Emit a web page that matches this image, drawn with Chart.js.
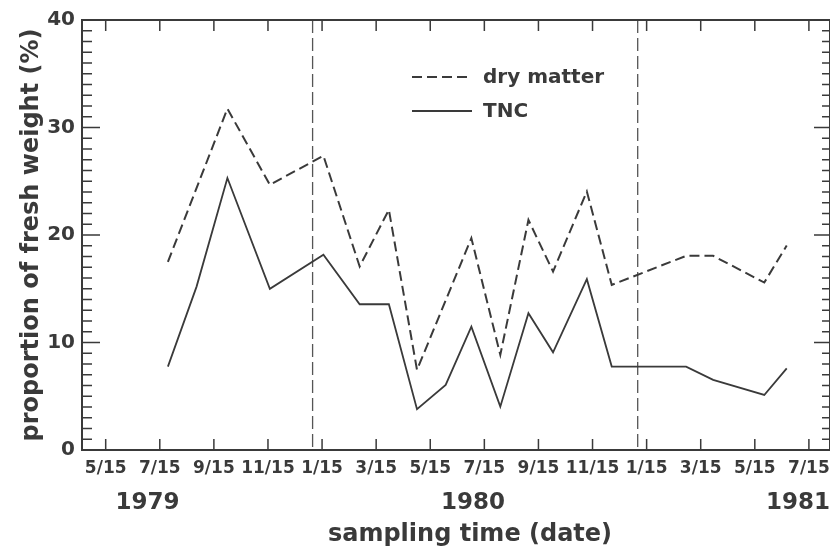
<!DOCTYPE html>
<html><head><meta charset="utf-8">
<script src="https://cdn.jsdelivr.net/npm/chart.js@4.4.1/dist/chart.umd.min.js"></script>
<style>html,body{margin:0;padding:0;background:#fff;} canvas{display:block;}</style>
</head><body>
<canvas id="c" width="830" height="550"></canvas>
<script>
// sampling dates, as months after 15 May 1979
const sampleMonths = [2.3, 3.36, 4.5, 6.07, 8.05, 9.39, 10.47, 11.51, 12.57, 13.52, 14.59, 15.63, 16.54, 17.79, 18.71, 21.46, 22.46, 24.35, 25.18];
const dryMatter    = [17.5, null, 31.75, 24.67, 27.37, 17.07, 22.35, 7.45, null, 19.71, 8.85, 21.4, 16.6, 24.05, 15.36, 18.06, 18.06, 15.58, 19.02];
const tncValues    = [7.76, 15.2, 25.3, 14.99, 18.16, 13.56, 13.56, 3.79, 6.05, 11.48, 4.03, 12.73, 9.09, 15.89, 7.76, 7.76, 6.52, 5.12, 7.6];
const tickMonths   = [0, 2, 4, 6, 8, 10, 12, 14, 16, 18, 20, 22, 24, 26];
const tickLabels   = ['5/15','7/15','9/15','11/15','1/15','3/15','5/15','7/15','9/15','11/15','1/15','3/15','5/15','7/15'];
const yearLabels   = ['1979', '1980', '1981'];
const yearMonths   = [1.55, 13.58, 25.6];
const yearBreakMonths = [7.65, 19.67];
const seriesNames  = ['dry matter', 'TNC'];
const xTitle = 'sampling time (date)';
const yTitle = 'proportion of fresh weight (%)';

const INK = '#3a3a3a';
const FONT = "'DejaVu Sans', sans-serif";

function pts(vals) {
  return sampleMonths.map((m, i) => ({x: m, y: vals[i]})).filter(p => p.y !== null);
}

const decor = {
  id: 'decor',
  beforeDatasetsDraw(chart) {
    const {ctx, chartArea: a, scales: {x}} = chart;
    ctx.save();
    ctx.strokeStyle = '#555';
    ctx.lineWidth = 1.3;
    ctx.setLineDash([13, 5]);
    yearBreakMonths.forEach(m => {
      const px = x.getPixelForValue(m);
      ctx.beginPath(); ctx.moveTo(px, a.top); ctx.lineTo(px, a.bottom); ctx.stroke();
    });
    ctx.restore();
  },
  afterDraw(chart) {
    const {ctx, chartArea: a, scales: {x, y}} = chart;
    ctx.save();
    ctx.strokeStyle = INK;
    ctx.lineWidth = 2;
    ctx.beginPath();
    ctx.moveTo(a.left, a.top); ctx.lineTo(a.right, a.top); ctx.lineTo(a.right, a.bottom);
    ctx.stroke();
    ctx.lineWidth = 1.5;
    // y ticks (inward)
    for (let v = 0; v <= 40; v++) {
      const py = y.getPixelForValue(v);
      const major = v % 10 === 0;
      ctx.beginPath();
      ctx.moveTo(a.left, py); ctx.lineTo(a.left + (major ? 18 : 10), py);
      ctx.moveTo(a.right, py); ctx.lineTo(a.right - (major ? 16 : 8), py);
      ctx.stroke();
    }
    // x ticks (inward, bottom and top)
    tickMonths.forEach(m => {
      const px = x.getPixelForValue(m);
      ctx.beginPath();
      ctx.moveTo(px, a.bottom); ctx.lineTo(px, a.bottom - 11);
      ctx.moveTo(px, a.top); ctx.lineTo(px, a.top + 11);
      ctx.stroke();
    });
    // year labels
    ctx.fillStyle = INK;
    ctx.font = 'bold 23px ' + FONT;
    ctx.textAlign = 'center';
    ctx.textBaseline = 'alphabetic';
    yearLabels.forEach((t, i) => ctx.fillText(t, x.getPixelForValue(yearMonths[i]), 509));
    // x title
    ctx.font = 'bold 24px ' + FONT;
    ctx.fillText(xTitle, 470, 541);
    // legend
    const ds = chart.data.datasets;
    const rows = [77, 111];
    ds.forEach((d, i) => {
      ctx.strokeStyle = d.borderColor;
      ctx.lineWidth = d.borderWidth;
      ctx.setLineDash(d.borderDash || []);
      ctx.beginPath(); ctx.moveTo(412, rows[i]); ctx.lineTo(472, rows[i]); ctx.stroke();
      ctx.setLineDash([]);
      ctx.font = 'bold 20px ' + FONT;
      ctx.textAlign = 'left';
      ctx.textBaseline = 'middle';
      ctx.fillText(d.label, 483, rows[i] + 1);
    });
    ctx.restore();
  }
};

new Chart(document.getElementById('c'), {
  type: 'line',
  data: {
    datasets: [
      {label: seriesNames[0], data: pts(dryMatter), borderColor: INK, borderWidth: 2, borderDash: [10, 5], pointRadius: 0, tension: 0, fill: false},
      {label: seriesNames[1], data: pts(tncValues), borderColor: INK, borderWidth: 1.8, pointRadius: 0, tension: 0, fill: false}
    ]
  },
  options: {
    responsive: false,
    animation: false,
    devicePixelRatio: 1,
    layout: {padding: {top: 20, left: 0, right: 0, bottom: 0}},
    plugins: {legend: {display: false}, tooltip: {enabled: false}},
    scales: {
      x: {
        type: 'linear',
        min: -0.876, max: 26.78,
        grid: {display: false, drawTicks: false},
        border: {display: true, color: INK, width: 2},
        afterBuildTicks: s => { s.ticks = tickMonths.map(v => ({value: v})); },
        afterFit: s => { s.height = 100; s.paddingLeft = 0; s.paddingRight = 0; },
        ticks: {
          autoSkip: false, maxRotation: 0, minRotation: 0, padding: 8,
          color: INK, font: {family: FONT, size: 17, weight: 'bold'},
          callback: (v, i) => tickLabels[i]
        }
      },
      y: {
        min: 0, max: 40,
        grid: {display: false, drawTicks: false},
        border: {display: true, color: INK, width: 2},
        afterFit: s => { s.width = 82; },
        ticks: {stepSize: 10, padding: 7, color: INK, font: {family: FONT, size: 20, weight: 'bold'}},
        title: {display: true, text: yTitle, color: INK, padding: {top: 17, bottom: 0}, font: {family: FONT, size: 24, weight: 'bold'}}
      }
    }
  },
  plugins: [decor]
});
</script>
</body></html>
